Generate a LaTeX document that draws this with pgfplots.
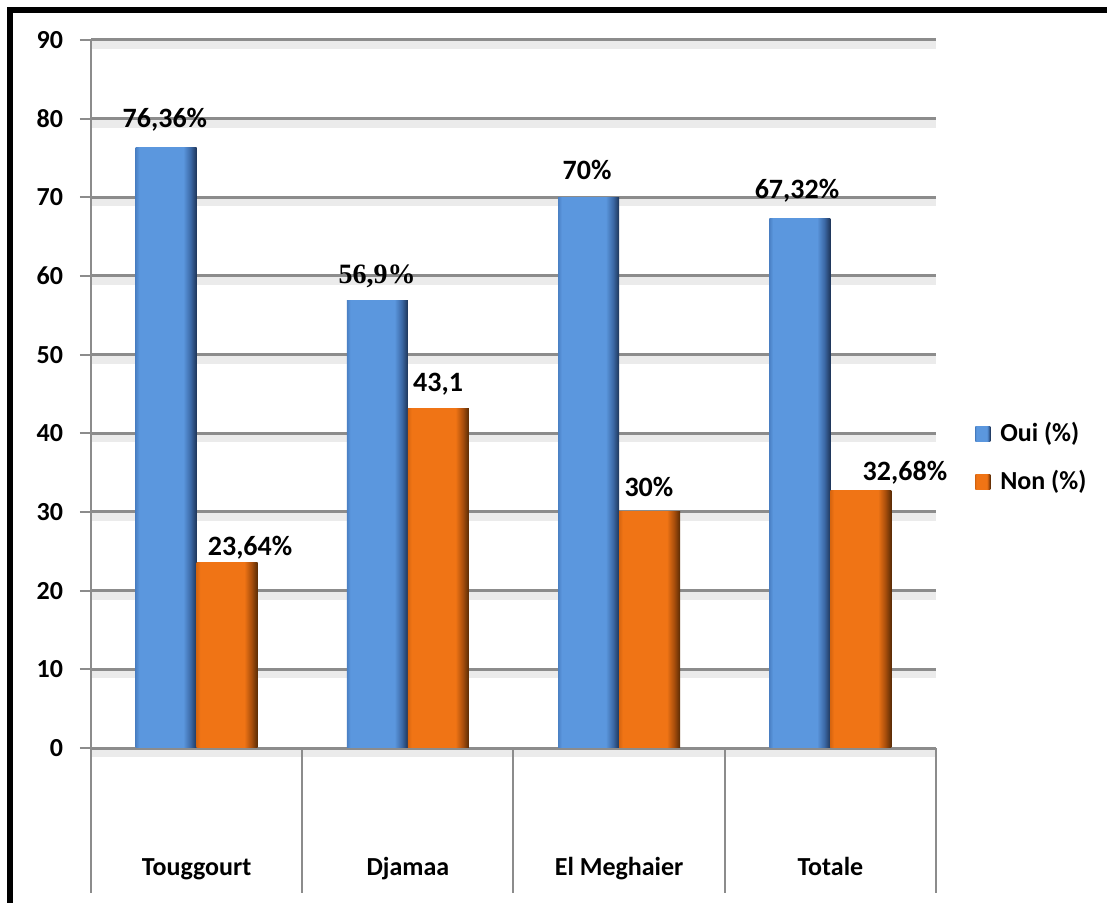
\documentclass[border=0pt]{standalone}
\usepackage{fontspec}
\setmainfont{Carlito}
\newfontfamily\tnr{Liberation Serif}
\usepackage{pgfplots}
\pgfplotsset{compat=1.18}
\definecolor{bbase}{HTML}{5B97DE}
\definecolor{bdark}{HTML}{1E3558}
\definecolor{bmid}{HTML}{3C69A6}
\definecolor{bedge}{HTML}{4A80C4}
\definecolor{obase}{HTML}{F07415}
\definecolor{odark}{HTML}{582B05}
\definecolor{omid}{HTML}{A84E0C}
\definecolor{oedge}{HTML}{D86610}
\definecolor{gridc}{HTML}{8C8C8C}
\pgfdeclarehorizontalshading{bluebar}{100bp}{color(0bp)=(bedge); color(25bp)=(bedge); color(28bp)=(bbase); color(64bp)=(bbase); color(70bp)=(bmid); color(75bp)=(bdark); color(100bp)=(bdark)}
\pgfdeclarehorizontalshading{orangebar}{100bp}{color(0bp)=(oedge); color(25bp)=(oedge); color(28bp)=(obase); color(64bp)=(obase); color(70bp)=(omid); color(75bp)=(odark); color(100bp)=(odark)}
\newcommand\lbl{\fontsize{13bp}{15bp}\selectfont\bfseries}
\newcommand\dlbl{\fontsize{14bp}{16bp}\selectfont\bfseries}
\begin{document}
\begin{tikzpicture}
\useasboundingbox (0,0) rectangle (553.5bp,451.5bp);
\fill[white] (0,0) rectangle (553.5bp,451.5bp);
\draw[line width=3bp] (5bp,0) -- (5bp,446.35bp) -- (553.5bp,446.35bp);
\begin{axis}[
  at={(45.5bp,77.5bp)}, anchor=south west,
  scale only axis, width=422.5bp, height=354bp,
  xmin=0, xmax=4, ymin=0, ymax=90,
  ytick={0,10,...,90},
  xtick={0.5,1.5,2.5,3.5},
  xticklabels={Touggourt,Djamaa,El Meghaier,Totale},
  axis lines*=left,
  axis line style={-, draw=gridc, line width=1bp},
  ymajorgrids,
  major grid style={draw=gridc, line width=1.5bp,
    preaction={draw=black!8, line width=4bp, transform canvas={yshift=-2.5bp}}},
  tick align=outside,
  major tick length=5.5bp,
  ytick style={draw=gridc, line width=1bp},
  xtick style={draw=none},
  clip=false,
  /pgf/number format/assume math mode=true,
  yticklabel style={font=\lbl, xshift=-5bp},
  xticklabel style={font=\lbl, anchor=base, yshift=-58bp},
  legend style={at={(1.046,0.41)}, anchor=west, draw=none, fill=none, font=\lbl, row sep=9bp, inner sep=0pt,
    nodes={inner xsep=5bp}},
  legend cell align=left,
  legend image code/.code={\path[#1, draw=none] (0bp,-3.75bp) rectangle (7.5bp,3.75bp);},
  bar width=0.289,
]
% Oui (%)
\addplot[ybar, bar shift=-0.1445, draw=none, shading=bluebar] coordinates {(0.5,76.36)};
\addlegendentry{Oui (\%)}
% Non (%)
\addplot[ybar, bar shift=0.1445, draw=none, shading=orangebar] coordinates {(0.5,23.64)};
\addlegendentry{Non (\%)}
\addplot[ybar, bar shift=-0.1445, draw=none, shading=bluebar, forget plot] coordinates {(1.5,56.9)};
\addplot[ybar, bar shift=-0.1445, draw=none, shading=bluebar, forget plot] coordinates {(2.5,70)};
\addplot[ybar, bar shift=-0.1445, draw=none, shading=bluebar, forget plot] coordinates {(3.5,67.32)};
\addplot[ybar, bar shift=0.1445, draw=none, shading=orangebar, forget plot] coordinates {(1.5,43.1)};
\addplot[ybar, bar shift=0.1445, draw=none, shading=orangebar, forget plot] coordinates {(2.5,30)};
\addplot[ybar, bar shift=0.1445, draw=none, shading=orangebar, forget plot] coordinates {(3.5,32.68)};
\foreach \k in {0,1,2,3,4} {
  \edef\tmp{\noexpand\draw[gridc, line width=1bp] (axis cs:\k,0) -- ++(0,-72.5bp);}\tmp
}
\node[font=\dlbl] at (axis cs:0.350,79.8) {76,36\%};
\node[font=\dlbl] at (axis cs:0.753,25.4) {23,64\%};
\node[font=\fontsize{14bp}{16bp}\selectfont\bfseries\tnr] at (axis cs:1.354,60.0) {56,9\%};
\node[font=\dlbl] at (axis cs:1.643,46.3) {43,1};
\node[font=\dlbl] at (axis cs:2.348,73.5) {70\%};
\node[font=\dlbl] at (axis cs:2.641,33.2) {30\%};
\node[font=\dlbl] at (axis cs:3.342,70.9) {67,32\%};
\node[font=\dlbl] at (axis cs:3.853,35.0) {32,68\%};
\end{axis}
\end{tikzpicture}
\end{document}
